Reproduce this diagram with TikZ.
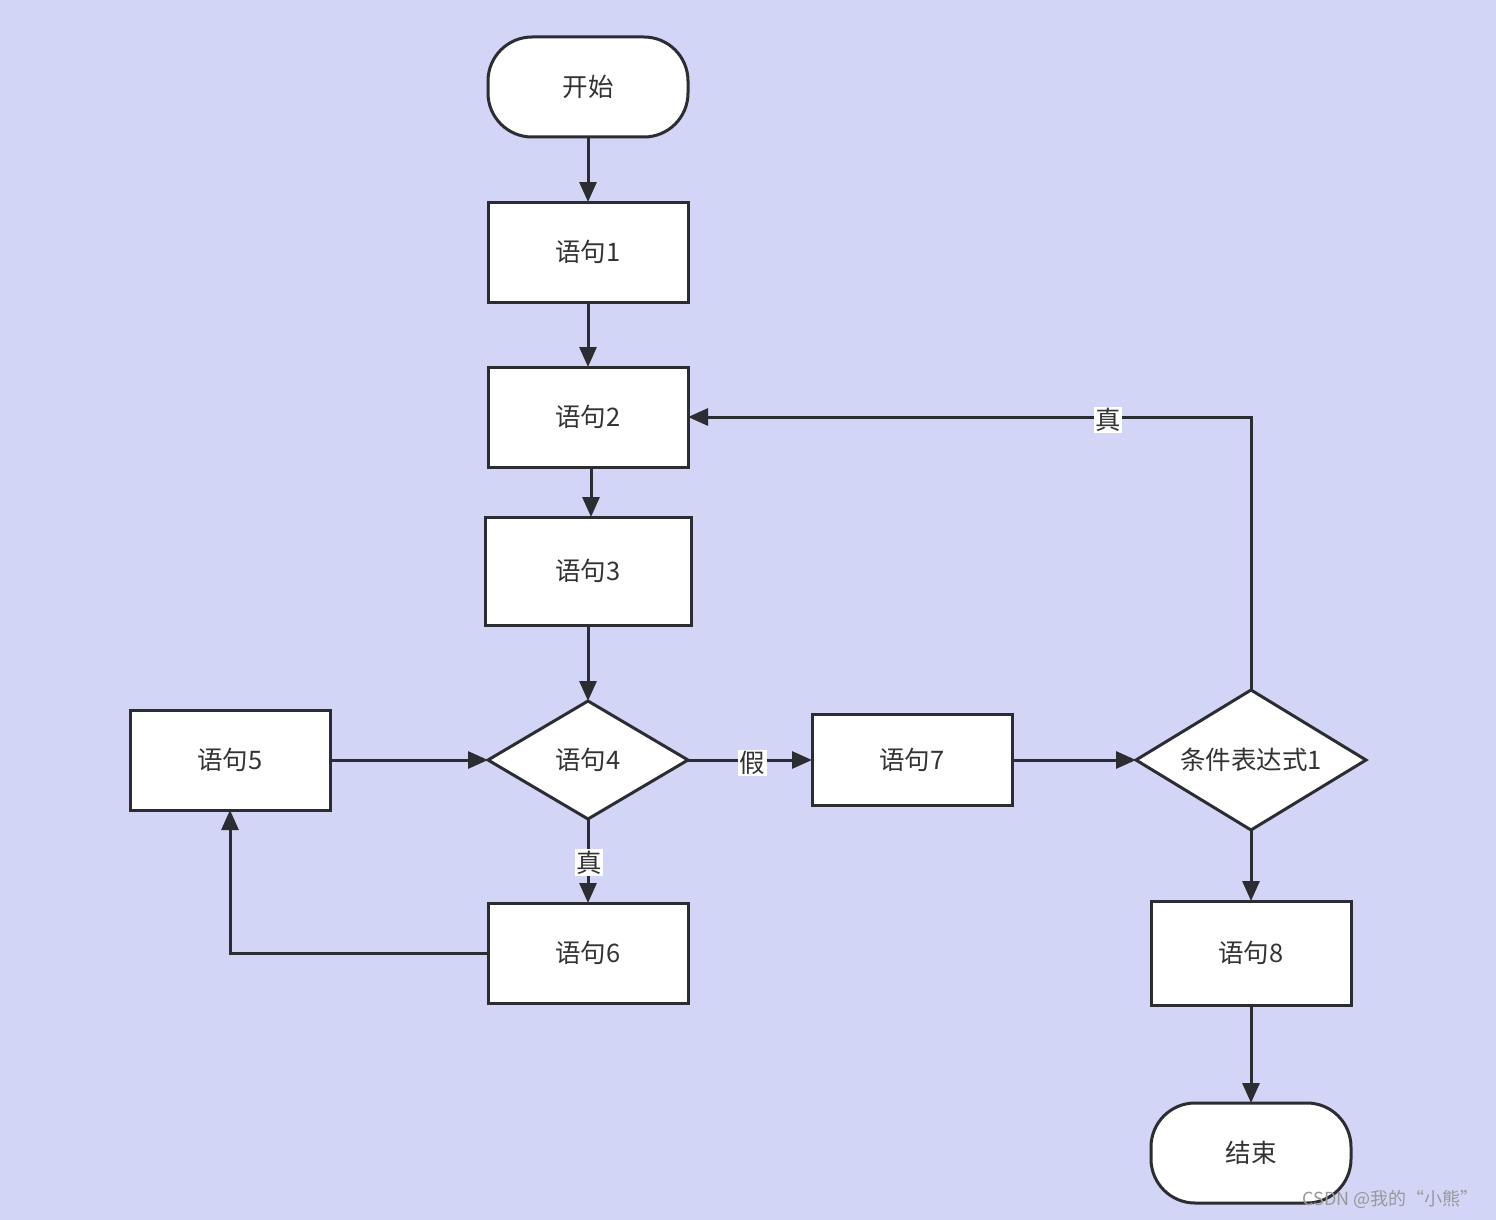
\documentclass[tikz,border=0pt]{standalone}
\usepackage{fontspec}
\setmainfont{Noto Sans CJK SC}
\usetikzlibrary{shapes.geometric,arrows.meta}
\definecolor{bg}{RGB}{210,213,245}
\definecolor{ln}{RGB}{43,45,51}
\definecolor{tx}{RGB}{51,51,51}
\begin{document}
\begin{tikzpicture}[x=1pt,y=-1pt,
  base/.style={draw=ln,line width=3pt,fill=white,text=tx,font=\fontsize{25.5}{30}\selectfont,inner sep=0pt,outer sep=0pt},
  box/.style={base,rectangle,minimum width=200pt,minimum height=100pt},
  term/.style={base,rectangle,rounded corners=44pt,minimum width=200pt,minimum height=100pt},
  conn/.style={draw=ln,line width=3pt,-{Triangle[length=20pt,width=17pt]}},
  dtext/.style={text=tx,font=\fontsize{25.5}{30}\selectfont},
  lab/.style={fill=white,text=tx,font=\fontsize{25.5}{30}\selectfont,inner sep=1.5pt}]
\fill[bg] (0,0) rectangle (1496,1220);
\useasboundingbox (0,0) rectangle (1496,1220);
\node[term] (start) at (588,87) {开始};
\node[box] (s1) at (588,252) {语句1};
\node[box] (s2) at (588,417) {语句2};
\node[box,minimum width=206pt,minimum height=108pt] (s3) at (588,571) {语句3};
\draw[ln,line width=3pt,fill=white] (488,760) -- (588,701) -- (688,760) -- (588,819) -- cycle;
\coordinate (s4l) at (488,760);
\coordinate (s4r) at (688,760);
\coordinate (s4t) at (588,701);
\coordinate (s4b) at (588,819);
\node[dtext] (s4) at (588,760) {语句4};
\node[box] (s5) at (230,760) {语句5};
\node[box] (s6) at (588,953) {语句6};
\node[box,minimum height=91pt] (s7) at (912,760) {语句7};
\draw[ln,line width=3pt,fill=white] (1136,760) -- (1251,690) -- (1366,760) -- (1251,830) -- cycle;
\coordinate (cl) at (1136,760);
\coordinate (ct) at (1251,690);
\coordinate (cb) at (1251,830);
\node[dtext] (cond) at (1251,760) {条件表达式1};
\node[box,minimum height=104pt] (s8) at (1251,953) {语句8};
\node[term] (end) at (1251,1153) {结束};
\coordinate (k1) at (230,953);
\coordinate (k2) at (1251,417);
\draw[conn] (start) -- (s1);
\draw[conn] (s1) -- (s2);
\draw[conn] (591,467) -- (591,517);
\draw[conn] (s3) -- (s4t);
\draw[conn] (s5) -- (s4l);
\draw[conn] (s4r) -- (s7) node[lab,pos=0.52,yshift=-3pt] (lf) {假};
\draw[conn] (s4b) -- (s6) node[lab,pos=0.52,xshift=1pt] (lt) {真};
\draw[conn] (s6.west) -- (k1) -- (s5.south);
\draw[conn] (s7) -- (cl);
\draw[conn] (cb) -- (s8);
\draw[conn] (s8) -- (end);
\draw[conn] (ct) -- (k2) -- node[lab,pos=0.254,yshift=-3pt] (lt2) {真} (s2.east);
\node[text=gray!80,font=\fontsize{18}{20}\selectfont,anchor=east] (wm) at (1482,1199) {CSDN @我的“小熊”};
\end{tikzpicture}
\end{document}
